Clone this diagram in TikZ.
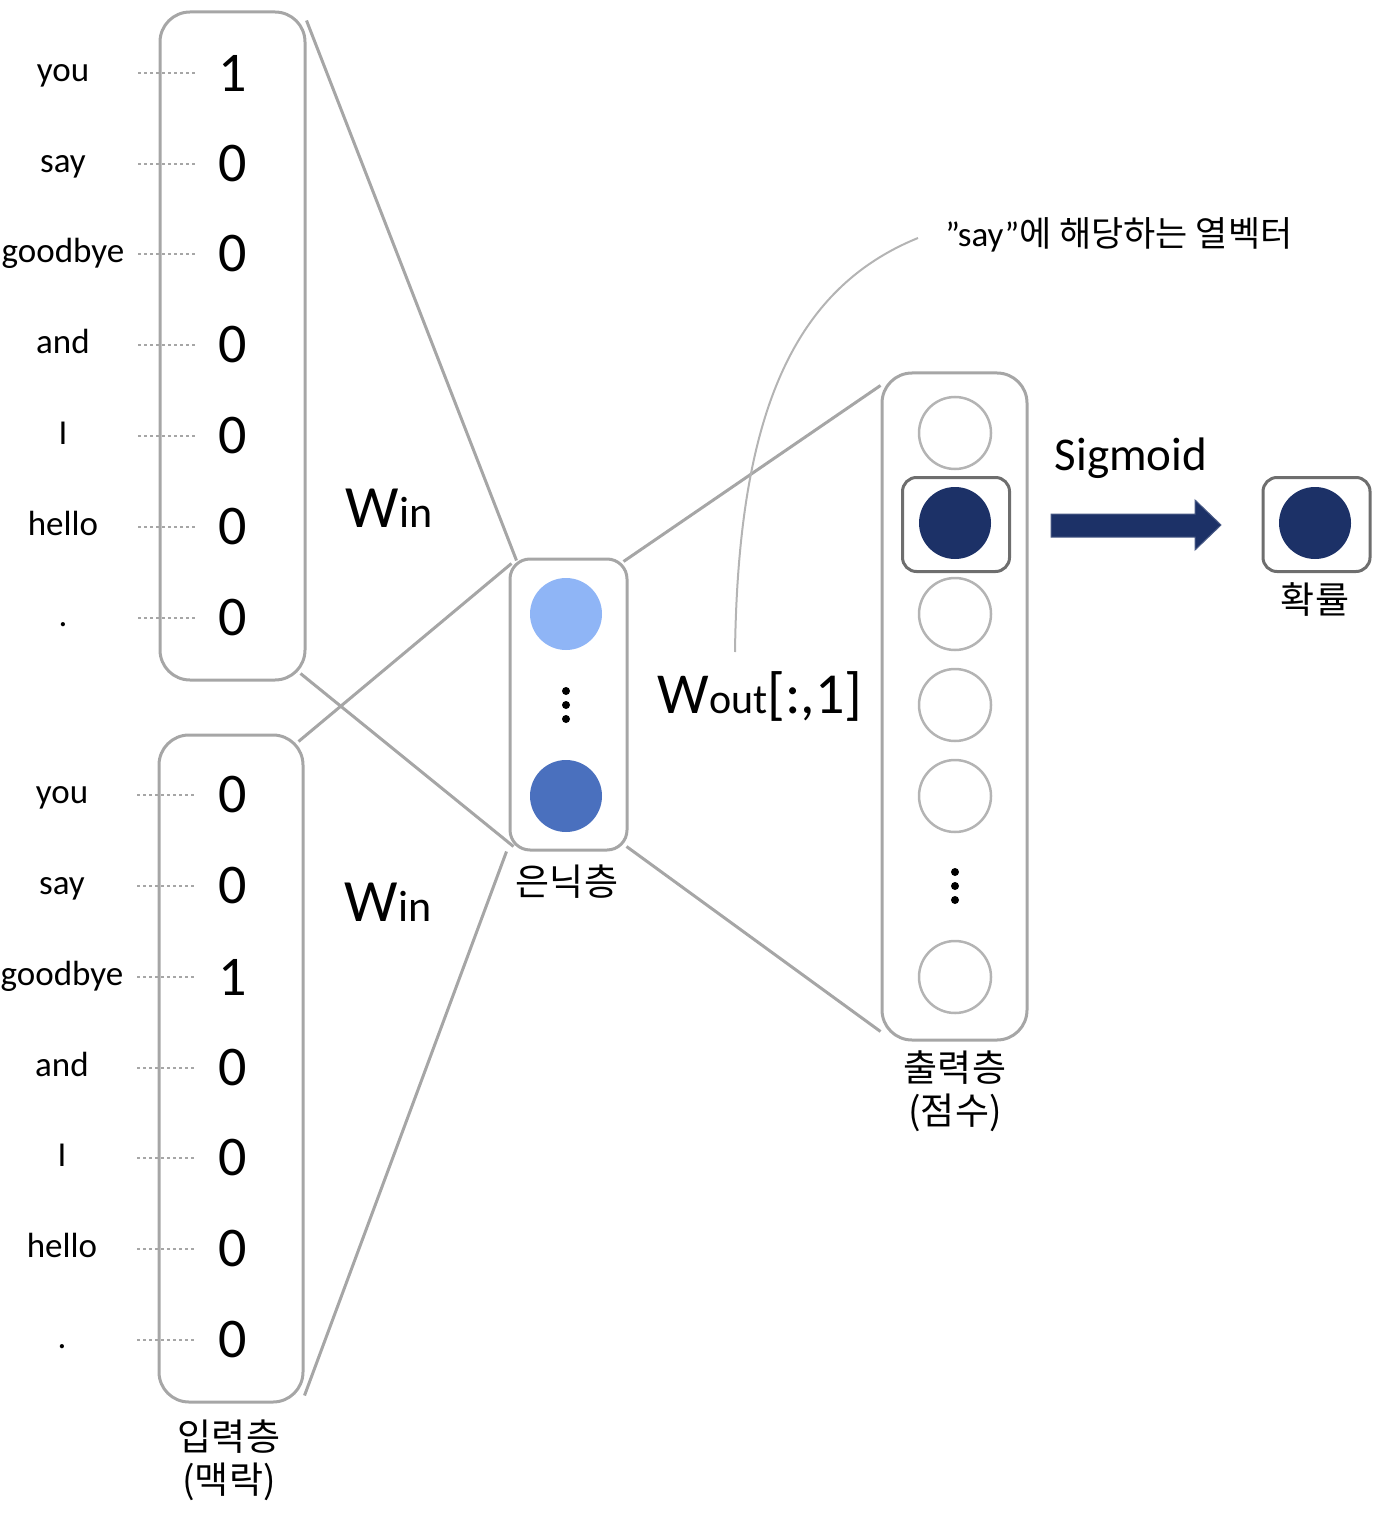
\documentclass[tikz,border=0pt]{standalone}
\usepackage{fontspec}
\setmainfont{Carlito}
\newfontfamily\krfont{Noto Sans CJK KR}
\usepackage{tikz}

\definecolor{linegray}{HTML}{A6A6A6}
\definecolor{ringgray}{HTML}{B4B4B4}
\definecolor{selgray}{HTML}{6E6E6E}
\definecolor{lightblue}{HTML}{8FB5F6}
\definecolor{midblue}{HTML}{4A70BE}
\definecolor{navy}{HTML}{1C3167}

\tikzset{
  layer/.style={draw=linegray, line width=1.5pt, rounded corners=15pt, inner sep=0pt},
  selbox/.style={draw=selgray, line width=1.5pt, rounded corners=7pt, minimum width=53.5pt, minimum height=47pt, inner sep=0pt},
  word/.style={font=\fontsize{17.5}{20}\selectfont, minimum width=75pt, text height=12pt, text depth=3.8pt, inner sep=0pt},
  digit/.style={font=\fontsize{28}{30}\selectfont, minimum width=38pt, inner sep=0pt},
  neuron/.style={circle, draw=ringgray, line width=1.25pt, minimum size=36pt, inner sep=0pt},
  hot/.style={circle, fill=#1, minimum size=36pt, inner sep=0pt},
  krlabel/.style={font=\krfont\fontsize{18.5}{21.5}\selectfont, align=center, inner sep=0pt},
  dotline/.style={draw=linegray, line width=1.1pt, dash pattern=on 1.1pt off 1.9pt},
  link/.style={draw=linegray, line width=1.5pt}
}

\begin{document}
\begin{tikzpicture}[x=0.5pt,y=-0.5pt]
\useasboundingbox (0,0) rectangle (1384,1518);
\path (232.5,346) node[layer, minimum width=72.5pt, minimum height=334pt] (inA) {}
      (231,1068.5) node[layer, minimum width=72pt, minimum height=333.5pt] (inB) {}
      (568.5,704.5) node[layer, rounded corners=10pt, minimum width=58.5pt, minimum height=145.5pt] (hid) {}
      (954.5,706.5) node[layer, minimum width=72.5pt, minimum height=333.5pt] (outL) {}
      ;
\path (63,73) node[word] (wA1) {you}
      (63,164) node[word] (wA2) {say}
      (63,254) node[word] (wA3) {goodbye}
      (63,345) node[word] (wA4) {and}
      (63,436) node[word] (wA5) {I}
      (63,527) node[word] (wA6) {hello}
      (63,618) node[word] (wA7) {.}
      (233,73) node[digit] (dA1) {1}
      (233,164) node[digit] (dA2) {0}
      (233,254) node[digit] (dA3) {0}
      (233,345) node[digit] (dA4) {0}
      (233,436) node[digit] (dA5) {0}
      (233,527) node[digit] (dA6) {0}
      (233,618) node[digit] (dA7) {0}
      ;
\path (62,795) node[word] (wB1) {you}
      (62,886) node[word] (wB2) {say}
      (62,977) node[word] (wB3) {goodbye}
      (62,1068) node[word] (wB4) {and}
      (62,1158) node[word] (wB5) {I}
      (62,1249) node[word] (wB6) {hello}
      (62,1340) node[word] (wB7) {.}
      (233,795) node[digit] (dB1) {0}
      (233,886) node[digit] (dB2) {0}
      (233,977) node[digit] (dB3) {1}
      (233,1068) node[digit] (dB4) {0}
      (233,1158) node[digit] (dB5) {0}
      (233,1249) node[digit] (dB6) {0}
      (233,1340) node[digit] (dB7) {0}
      ;
\path (566,614) node[hot=lightblue] (h1) {}
      (566,796) node[hot=midblue] (h2) {}
      (955,433) node[neuron] (o1) {}
      (955,523) node[hot=navy] (o2) {}
      (955,614) node[neuron] (o3) {}
      (955,705) node[neuron] (o4) {}
      (955,796) node[neuron] (o5) {}
      (955,977) node[neuron] (o6) {}
      (956,524.5) node[selbox] (sel) {}
      (1316.5,524.5) node[selbox] (pbox) {}
      (1315,523) node[hot=navy] (p) {}
      ;
\path (567,882) node[krlabel] (hidlab) {은닉층}
      (955,1091) node[krlabel] (outlab) {출력층\\(점수)}
      (229,1460) node[krlabel] (inlab) {입력층\\(맥락)}
      (1315,600) node[krlabel] (problab) {확률}
      (389,527) node[anchor=base, font=\fontsize{30}{32}\selectfont] (winA) {W{\fontsize{22}{24}\selectfont in}}
      (388,921) node[anchor=base, font=\fontsize{30}{32}\selectfont] (winB) {W{\fontsize{22}{24}\selectfont in}}
      (760,713) node[anchor=base, font=\fontsize{29}{32}\selectfont] (wout) {W{\fontsize{21}{24}\selectfont out}[:,1]}
      (1131,470) node[anchor=base, font=\fontsize{23.5}{26}\selectfont] (sig) {Sigmoid}
      (945,247) node[anchor=base west, inner sep=0pt, font=\fontsize{17.5}{20}\selectfont] (note) {”say”{\krfont 에 해당하는 열벡터}}
      ;
\coordinate (c1) at (735,652);
\coordinate (c2) at (918,238);

\foreach \r in {1,...,7} {
  \draw[dotline] (node cs:name=wA\r, anchor=east) -- (node cs:name=dA\r, anchor=west);
  \draw[dotline] (node cs:name=wB\r, anchor=east) -- (node cs:name=dB\r, anchor=west);
}
\draw[link] ([yshift=-5pt]inA.north east) -- ([xshift=4pt,yshift=-1.5pt]hid.north west);
\draw[link] ([xshift=-3pt,yshift=4pt]inA.south east) -- ([xshift=2.5pt,yshift=2.5pt]hid.south west);
\draw[link] ([xshift=-3pt,yshift=-4pt]inB.north east) -- ([xshift=1.5pt,yshift=-3pt]hid.north west);
\draw[link] ([yshift=4pt]inB.south east) -- ([xshift=-1pt]hid.south west);
\draw[link] ([xshift=-2.5pt,yshift=-2pt]hid.north east) -- ([yshift=-7pt]outL.north west);
\draw[link] ([xshift=-1pt,yshift=2.5pt]hid.south east) -- ([yshift=5pt]outL.south west);
\draw[draw=ringgray, line width=1pt] (c1) .. controls (738,420) and (790,290) .. (c2);

\fill (566,691) circle (2pt) (566,705) circle (2pt) (566,719) circle (2pt);
\fill (955,872) circle (2pt) (955,886) circle (2pt) (955,900) circle (2pt);
\filldraw[fill=navy, draw=navy!80!white, line width=0.5pt]
  (1051,514) -- (1195,514) -- (1195,500) -- (1221,525) -- (1195,550) -- (1195,537) -- (1051,537) -- cycle;
\end{tikzpicture}
\end{document}
